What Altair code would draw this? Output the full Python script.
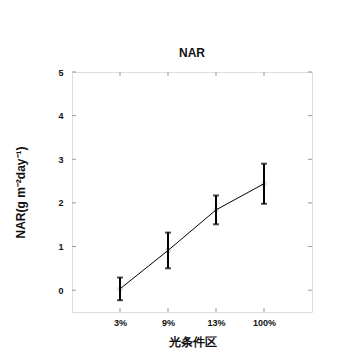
import altair as alt
import pandas as pd

categories = ["3%", "9%", "13%", "100%"]
positions = [1, 2, 3, 4]
means = [0.03, 0.91, 1.84, 2.44]
errors = [0.26, 0.41, 0.33, 0.46]
y_ticks = [0, 1, 2, 3, 4, 5]

df = pd.DataFrame({
    "pos": positions,
    "cat": categories,
    "mean": means,
    "lo": [m - e for m, e in zip(means, errors)],
    "hi": [m + e for m, e in zip(means, errors)],
})
yt = pd.DataFrame({"v": y_ticks})
xt = pd.DataFrame({"v": positions})

W, H = 240, 240
FONT = "Liberation Sans"
label_expr = "datum.value==1?'3%':datum.value==2?'9%':datum.value==3?'13%':datum.value==4?'100%':''"

xs = alt.Scale(domain=[0, 5], nice=False, zero=False)
ys = alt.Scale(domain=[-0.5, 5], nice=False, zero=False)

x_axis = alt.Axis(values=positions, labelExpr=label_expr, ticks=False, domain=False, grid=False,
                  title="光条件区", labelFont=FONT, labelFontWeight="bold", labelFontSize=9,
                  labelPadding=6, titleFont=FONT, titleFontWeight="bold", titleFontSize=12,
                  titlePadding=9, labelColor="#111", titleColor="#111")
y_axis = alt.Axis(values=y_ticks, ticks=False, domain=False, grid=False,
                  title="NAR(g m⁻²day⁻¹)", labelFont=FONT, labelFontWeight="bold", labelFontSize=9,
                  labelPadding=9, titleFont=FONT, titleFontWeight="bold", titleFontSize=12,
                  titlePadding=30, labelColor="#111", titleColor="#111")

base = alt.Chart(df)

line = base.mark_line(color="black", strokeWidth=1).encode(
    x=alt.X("pos:Q", scale=xs, axis=x_axis),
    y=alt.Y("mean:Q", scale=ys, axis=y_axis),
)
pts = base.mark_point(color="#bbb", size=20, strokeWidth=1).encode(
    x=alt.X("pos:Q", scale=xs), y=alt.Y("mean:Q", scale=ys)
)
bars = base.mark_rule(color="black", strokeWidth=2).encode(
    x=alt.X("pos:Q", scale=xs), y=alt.Y("lo:Q", scale=ys), y2="hi:Q"
)
cap_lo = base.mark_tick(color="black", thickness=2, size=6, orient="horizontal").encode(
    x=alt.X("pos:Q", scale=xs), y=alt.Y("lo:Q", scale=ys)
)
cap_hi = base.mark_tick(color="black", thickness=2, size=6, orient="horizontal").encode(
    x=alt.X("pos:Q", scale=xs), y=alt.Y("hi:Q", scale=ys)
)

tick_col = "#999"
lt = alt.Chart(yt).mark_rule(color=tick_col, strokeWidth=1).encode(
    y=alt.Y("v:Q", scale=ys), x=alt.value(0), x2=alt.value(4))
rt = alt.Chart(yt).mark_rule(color=tick_col, strokeWidth=1).encode(
    y=alt.Y("v:Q", scale=ys), x=alt.value(W - 4), x2=alt.value(W))
tt = alt.Chart(xt).mark_rule(color=tick_col, strokeWidth=1).encode(
    x=alt.X("v:Q", scale=xs), y=alt.value(0), y2=alt.value(4))
bt = alt.Chart(xt).mark_rule(color=tick_col, strokeWidth=1).encode(
    x=alt.X("v:Q", scale=xs), y=alt.value(H - 4), y2=alt.value(H))

chart = alt.layer(pts, line, bars, cap_lo, cap_hi, lt, rt, tt, bt).properties(
    width=W, height=H,
    title=alt.TitleParams("NAR", font=FONT, fontWeight="bold", fontSize=12, offset=8, color="#111"),
    autosize=alt.AutoSizeParams(type="none"),
    padding={"left": 64, "top": 64, "right": 40, "bottom": 40},
).configure_view(stroke="#999", strokeWidth=1).configure(background="white")

chart.save("out.html", embed_options={"renderer": "svg", "actions": False})
